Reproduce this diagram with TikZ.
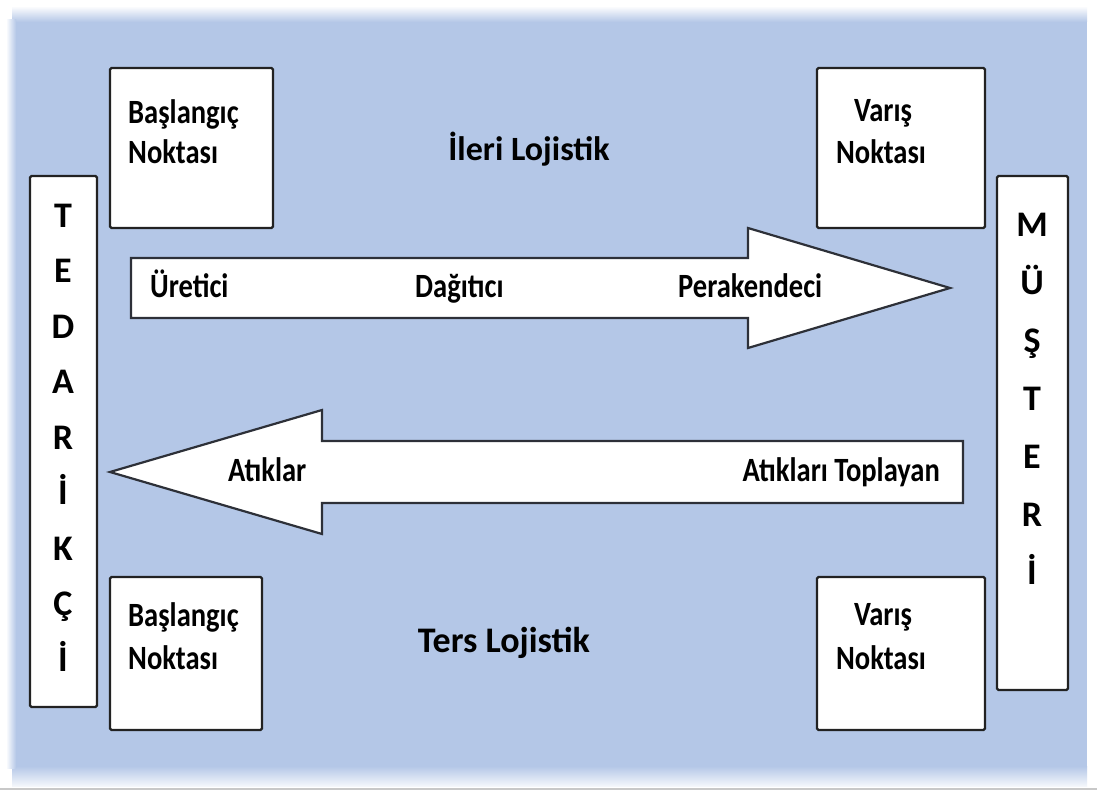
\documentclass[tikz,border=0pt]{standalone}
\usepackage{fontspec}
\setmainfont{Carlito}
\newfontfamily\narrowfont{Carlito}[FakeStretch=0.84]
\begin{document}
\begin{tikzpicture}[x=1pt,y=-1pt,
  whitebox/.style={draw=boxline, line width=2.2pt, fill=white, rounded corners=1.5pt},
  blockarrow/.style={draw=arrowline, line width=2.2pt, fill=white, line join=miter},
  lbl/.style={inner sep=0pt, font=\narrowfont\bfseries\fontsize{34}{40}\selectfont, text=black},
  barletter/.style={inner sep=0pt, font=\bfseries\fontsize{36}{40}\selectfont, text=black},
  title/.style={inner sep=0pt, font=\bfseries\fontsize{34}{40}\selectfont, text=black}]
\definecolor{bgblue}{RGB}{180,199,231}
\definecolor{boxline}{RGB}{34,34,34}
\definecolor{arrowline}{RGB}{45,48,56}
\definecolor{edgegray}{RGB}{200,200,200}
\useasboundingbox (0,0) rectangle (1097,792);
\fill[white] (0,0) rectangle (1097,792);

% blue panel with soft edges
\fill[bgblue] (12,20) rectangle (1087,768);
\shade[top color=white, bottom color=bgblue] (12,6) rectangle (1087,22);
\shade[top color=bgblue, bottom color=white!85!bgblue] (12,766) rectangle (1087,786);
\shade[left color=white, right color=bgblue] (6,20) rectangle (16,768);
\draw[edgegray, line width=2pt] (0,789) -- (1097,789);

% supplier and customer bars
\draw[whitebox] (30,176) rectangle (97,707);
\draw[whitebox] (997,176) rectangle (1068,690);
\foreach \ch [count=\i] in {T,E,D,A,R,İ,K,Ç,İ}
  \node[barletter, anchor=base] (ted\i) at (63,{227+55.5*(\i-1)}) {\ch};
\foreach \ch [count=\i] in {M,Ü,Ş,T,E,R,İ}
  \node[barletter, anchor=base] (mus\i) at (1032,{236+58*(\i-1)}) {\ch};

% start and end point boxes
\draw[whitebox] (110,68) rectangle (273,228);
\draw[whitebox] (817,68) rectangle (985,228);
\draw[whitebox] (110,577) rectangle (262,730);
\draw[whitebox] (817,577) rectangle (985,730);

\node[lbl, anchor=base west] (bas1a) at (128,123) {Başlangıç};
\node[lbl, anchor=base west] (bas1b) at (128,163) {Noktası};
\node[lbl, anchor=base] (var1a) at (883,121) {Varış};
\node[lbl, anchor=base] (var1b) at (881,163) {Noktası};
\node[lbl, anchor=base west] (bas2a) at (128,626) {Başlangıç};
\node[lbl, anchor=base west] (bas2b) at (128,669) {Noktası};
\node[lbl, anchor=base] (var2a) at (883,625) {Varış};
\node[lbl, anchor=base] (var2b) at (881,669) {Noktası};

% titles
\node[title, anchor=base] (ileri) at (529,160) {İleri Lojistik};
\node[title, anchor=base, font=\bfseries\fontsize{36}{40}\selectfont] (ters) at (504,652) {Ters Lojistik};

% forward logistics arrow
\draw[blockarrow] (131,258) -- (748,258) -- (748,228) -- (950,288)
  -- (748,348) -- (748,318) -- (131,318) -- cycle;
\node[lbl, anchor=base west] (uretici) at (150,297) {Üretici};
\node[lbl, anchor=base west] (dagitici) at (415,297) {Dağıtıcı};
\node[lbl, anchor=base west] (perakende) at (678,297) {Perakendeci};

% reverse logistics arrow
\draw[blockarrow] (963,441) -- (322,441) -- (322,410) -- (110,472)
  -- (322,534) -- (322,503) -- (963,503) -- cycle;
\node[lbl, anchor=base west] (atiklar) at (228,481) {Atıklar};
\node[lbl, anchor=base east] (toplayan) at (940,481) {Atıkları Toplayan};
\end{tikzpicture}
\end{document}
